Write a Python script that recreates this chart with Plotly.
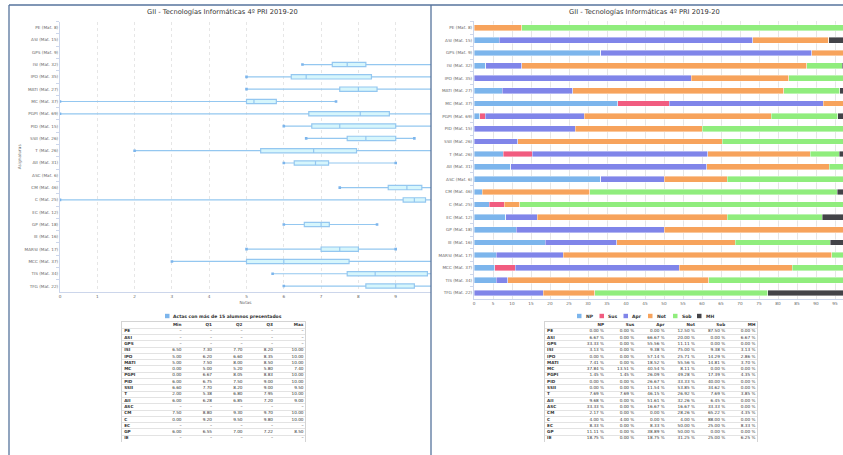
import plotly.graph_objects as go

W, H = 843, 455

def fx(x):
    return x / W

def fy(y):
    return (H - y) / H

title_text = "GII - Tecnologías Informáticas 4º PRI 2019-20"

subjects = ["PE", "ASI", "GPS", "ISI", "IPO", "MATI", "MC", "PGPI", "PID", "SSII", "T",
            "AII", "ASC", "CM", "C", "EC", "GP", "IE", "MARSI", "MCC", "TIS", "TFG"]
enrolled = [8, 15, 9, 32, 35, 27, 37, 69, 15, 26, 26, 31, 6, 46, 25, 12, 18, 16, 17, 37, 34, 22]

# Box-plot statistics (None = fewer than 15 students presented)
g_min = [None, None, None, 6.50, 5.00, 5.00, 0.00, 0.00, 6.00, 6.60, 2.00, 6.00, None, 7.50, 0.00, None, 6.00, None, 5.00, 3.00, 5.70, 6.00]
g_q1 = [None, None, None, 7.30, 6.20, 7.50, 5.00, 6.67, 6.75, 7.70, 5.38, 6.28, None, 8.80, 9.20, None, 6.55, None, 7.00, 5.00, 7.70, 8.20]
g_q2 = [None, None, None, 7.70, 6.60, 8.00, 5.20, 8.05, 7.50, 8.20, 6.80, 6.85, None, 9.30, 9.50, None, 7.00, None, 7.50, 6.00, 8.45, 9.00]
g_q3 = [None, None, None, 8.20, 8.35, 8.50, 5.80, 8.83, 9.00, 9.00, 7.95, 7.20, None, 9.70, 9.80, None, 7.22, None, 8.00, 7.75, 9.85, 9.50]
g_max = [None, None, None, 10.00, 10.00, 10.00, 7.40, 10.00, 10.00, 9.50, 10.00, 9.00, None, 10.00, 10.00, None, 8.50, None, 9.00, 10.00, 10.00, 10.00]

# Grade distribution (%)
series_names = ["NP", "Sus", "Apr", "Not", "Sob", "MH"]
series_colors = ["#7cb5ec", "#f15c80", "#8085e9", "#f7a35c", "#90ed7d", "#434348"]
p_np = [0.00, 6.67, 33.33, 3.13, 0.00, 7.41, 37.84, 1.45, 0.00, 0.00, 7.69, 9.68, 33.33, 2.17, 4.00, 8.33, 11.11, 18.75, 5.88, 5.41, 5.88, 0.00]
p_sus = [0.00, 0.00, 0.00, 0.00, 0.00, 0.00, 13.51, 1.45, 0.00, 0.00, 7.69, 0.00, 0.00, 0.00, 4.00, 0.00, 0.00, 0.00, 0.00, 5.41, 0.00, 0.00]
p_apr = [0.00, 66.67, 55.56, 9.38, 57.14, 18.52, 40.54, 26.09, 26.67, 11.54, 46.15, 51.61, 16.67, 0.00, 0.00, 8.33, 38.89, 18.75, 17.65, 43.24, 2.94, 18.18]
p_not = [12.50, 20.00, 11.11, 75.00, 25.71, 55.56, 8.11, 49.28, 33.33, 53.85, 26.92, 32.26, 16.67, 28.26, 4.00, 50.00, 50.00, 31.25, 70.59, 29.73, 52.94, 13.64]
p_sob = [87.50, 0.00, 0.00, 9.38, 14.29, 14.81, 0.00, 17.39, 40.00, 34.62, 7.69, 6.45, 33.33, 65.22, 88.00, 25.00, 0.00, 25.00, 5.88, 16.22, 38.24, 45.45]
p_mh = [0.00, 6.67, 0.00, 3.13, 2.86, 3.70, 0.00, 4.35, 0.00, 0.00, 3.85, 0.00, 0.00, 4.35, 0.00, 8.33, 0.00, 6.25, 0.00, 0.00, 0.00, 22.73]
pct_series = [p_np, p_sus, p_apr, p_not, p_sob, p_mh]

box_legend_text = "Actas con más de 15 alumnos presentados"
box_table_header = ["Min", "Q1", "Q2", "Q3", "Max"]

labels = [f"{s} (Mat. {m})" for s, m in zip(subjects, enrolled)]

FONT = "DejaVu Sans"
TICK = dict(family=FONT, size=4.2, color="#666666")
AXC = "#ccd6eb"
GRID = "#e6e6e6"
TXT = "#333333"

fig = go.Figure()

# ---- Left: box plot ----
idx = [i for i in range(len(subjects)) if g_q2[i] is not None]
fig.add_trace(go.Box(
    y=[labels[i] for i in idx],
    q1=[g_q1[i] for i in idx], median=[g_q2[i] for i in idx], q3=[g_q3[i] for i in idx],
    lowerfence=[g_min[i] for i in idx], upperfence=[g_max[i] for i in idx],
    orientation="h", xaxis="x", yaxis="y",
    fillcolor="#d6f6fc", line=dict(color="#94c7f0", width=1.2),
    whiskerwidth=0, boxpoints=False, showlegend=False, hoverinfo="skip",
))
fig.add_trace(go.Scatter(
    x=[g_min[i] for i in idx] + [g_max[i] for i in idx],
    y=[labels[i] for i in idx] * 2,
    mode="markers", marker=dict(symbol="square", size=2.6, color="#7cb5ec"),
    xaxis="x", yaxis="y", showlegend=False, hoverinfo="skip", cliponaxis=True,
))

# ---- Right: stacked bars ----
for name, col, vals in zip(series_names, series_colors, pct_series):
    fig.add_trace(go.Bar(
        y=labels, x=vals, name=name, orientation="h",
        marker=dict(color=col, line=dict(color="white", width=0.4)),
        xaxis="x2", yaxis="y2", showlegend=False, hoverinfo="skip",
    ))

# ---- Tables (text laid out on their own axes) ----
ROW_H = 6.3
TOP = 321.85
BOTTOM = 442.0


def add_table(xa, ya, header, cols):
    ncol = len(cols) + 1
    fig.add_trace(go.Scatter(
        x=[0.07] * len(subjects), y=list(range(1, len(subjects) + 1)),
        text=[f"<b>{s}</b>" for s in subjects], mode="text", textposition="middle right",
        textfont=dict(family=FONT, size=4.2, color=TXT),
        xaxis=xa, yaxis=ya, showlegend=False, hoverinfo="skip", cliponaxis=True,
    ))
    xs, ys, ts = [], [], []
    for j, h in enumerate(header):
        xs.append(j + 2 - 0.05)
        ys.append(0)
        ts.append(f"<b>{h}</b>")
    for j, col in enumerate(cols):
        for i, v in enumerate(col):
            xs.append(j + 2 - 0.05)
            ys.append(i + 1)
            ts.append(v)
    fig.add_trace(go.Scatter(
        x=xs, y=ys, text=ts, mode="text", textposition="middle left",
        textfont=dict(family=FONT, size=4.2, color=TXT),
        xaxis=xa, yaxis=ya, showlegend=False, hoverinfo="skip", cliponaxis=True,
    ))
    return ncol


def fmt2(v):
    return "–" if v is None else f"{v:.2f}"

box_cols = [[fmt2(v) for v in arr] for arr in (g_min, g_q1, g_q2, g_q3, g_max)]
nc3 = add_table("x3", "y3", box_table_header, box_cols)
pct_cols = [[f"{v:.2f} %" for v in arr] for arr in pct_series]
nc4 = add_table("x4", "y4", series_names, pct_cols)

yr = [(BOTTOM - TOP) / ROW_H - 0.5, -0.5]
bounds = [k + 0.5 for k in range(-1, len(subjects) + 1)]


def tbl_x(domain, ncol):
    return dict(domain=domain, range=[0, ncol], showgrid=False, showticklabels=False,
                zeroline=False, showline=True, side="top", linecolor="#d4d4d4",
                linewidth=0.8, ticks="", fixedrange=True)


def tbl_y(domain, anchor):
    return dict(domain=domain, range=yr, tickvals=bounds, showgrid=True, gridcolor="#e3e3e3",
                gridwidth=0.7, showticklabels=False, ticks="", zeroline=False,
                showline=True, mirror=True, linecolor="#d4d4d4", linewidth=0.8,
                anchor=anchor, fixedrange=True)

# ---- Layout ----
n = len(labels)
fig.update_layout(
    width=W, height=H, margin=dict(l=0, r=0, t=0, b=0),
    paper_bgcolor="white", plot_bgcolor="white",
    barmode="stack", bargap=0.54, boxgap=0.5,
    font=dict(family=FONT, color=TXT),
    xaxis=dict(domain=[fx(60), fx(431)], range=[0, (431 - 60) / 37.3], dtick=1,
               showgrid=True, gridcolor=GRID, griddash="dot", gridwidth=0.8,
               zeroline=False, showline=True, linecolor=AXC, linewidth=0.8,
               tickfont=TICK, ticks="", anchor="y",
               title=dict(text="Notas", font=dict(family=FONT, size=4.2, color="#666666"), standoff=2)),
    yaxis=dict(domain=[fy(292.2), fy(21.5)], type="category", categoryorder="array",
               categoryarray=labels, range=[n - 0.5, -0.5], tickson="boundaries",
               ticks="outside", ticklen=3, tickcolor=AXC, showline=True, linecolor=AXC,
               linewidth=0.8, showgrid=False, zeroline=False, tickfont=TICK, anchor="x",
               title=dict(text="Asignaturas", font=dict(family=FONT, size=4.2, color="#666666"), standoff=3)),
    xaxis2=dict(domain=[fx(474), 1], range=[0, (843 - 474) / 3.8], dtick=5,
                showgrid=True, gridcolor=GRID, gridwidth=0.8, zeroline=False,
                showline=True, linecolor=AXC, linewidth=0.8, tickfont=TICK, ticks="", anchor="y2"),
    yaxis2=dict(domain=[fy(299.3), fy(21.4)], type="category", categoryorder="array",
                categoryarray=labels, range=[n - 0.5, -0.5], tickson="boundaries",
                ticks="outside", ticklen=3, tickcolor=AXC, showline=True, linecolor=AXC,
                linewidth=0.8, showgrid=False, zeroline=False, tickfont=TICK, anchor="x2"),
    xaxis3=tbl_x([fx(122), fx(305)], nc3) | dict(anchor="y3"),
    yaxis3=tbl_y([fy(BOTTOM), fy(TOP)], "x3"),
    xaxis4=tbl_x([fx(545), fx(757)], nc4) | dict(anchor="y4"),
    yaxis4=tbl_y([fy(BOTTOM), fy(TOP)], "x4"),
)

shapes = []
annots = []
BORDER = "#56739c"
shapes.append(dict(type="line", xref="paper", yref="paper", x0=fx(9), x1=1, y0=fy(5), y1=fy(5),
                   line=dict(color=BORDER, width=1.3)))
shapes.append(dict(type="line", xref="paper", yref="paper", x0=fx(9), x1=fx(9), y0=fy(5), y1=0,
                   line=dict(color=BORDER, width=1.3)))
shapes.append(dict(type="line", xref="paper", yref="paper", x0=fx(431), x1=fx(431), y0=fy(5), y1=0,
                   line=dict(color=BORDER, width=1.3)))

for cx in (222, 644):
    annots.append(dict(text=title_text, x=fx(cx), y=fy(12), xref="paper", yref="paper",
                       xanchor="center", yanchor="middle", showarrow=False,
                       font=dict(family=FONT, size=6.7, color=TXT)))

# left legend
shapes.append(dict(type="rect", xref="paper", yref="paper", x0=fx(165), x1=fx(169.5),
                   y0=fy(318.2), y1=fy(313.8), fillcolor="#7cb5ec", line=dict(width=0)))
annots.append(dict(text=f"<b>{box_legend_text}</b>", x=fx(171), y=fy(316), xref="paper", yref="paper",
                   xanchor="left", yanchor="middle", showarrow=False,
                   font=dict(family=FONT, size=4.5, color=TXT)))

# right legend
leg_x = [577, 599.5, 623.5, 648, 673, 697]
for lx, name, col in zip(leg_x, series_names, series_colors):
    shapes.append(dict(type="rect", xref="paper", yref="paper", x0=fx(lx), x1=fx(lx + 4.5),
                       y0=fy(318.2), y1=fy(313.8), fillcolor=col, line=dict(width=0)))
    annots.append(dict(text=f"<b>{name}</b>", x=fx(lx + 6.5), y=fy(316), xref="paper", yref="paper",
                       xanchor="left", yanchor="middle", showarrow=False,
                       font=dict(family=FONT, size=4.5, color=TXT)))

fig.update_layout(shapes=shapes, annotations=annots)
fig.write_html("out.html", config={"displayModeBar": False},
               post_script="document.body.style.margin='0';document.body.style.overflow='hidden';")
